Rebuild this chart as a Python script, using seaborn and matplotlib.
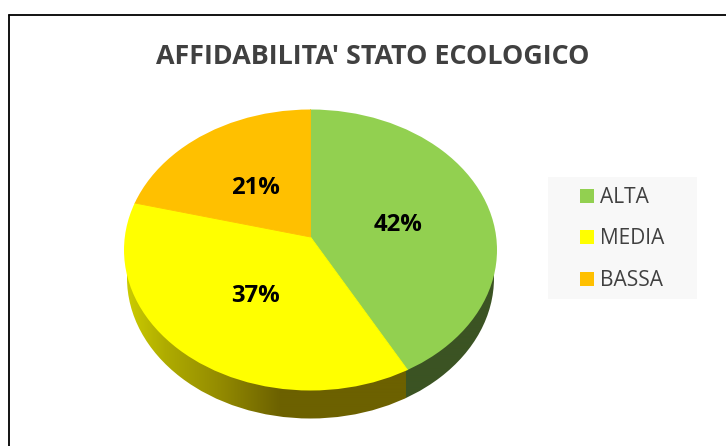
import numpy as np
import matplotlib
matplotlib.use("Agg")
import matplotlib.pyplot as plt
from matplotlib.patches import Circle, Ellipse, Rectangle
from matplotlib.lines import Line2D
import seaborn as sns

categories = ["ALTA", "MEDIA", "BASSA"]
values = [42, 37, 21]
colors = ["#92D050", "#FFFF00", "#FFC000"]
title = "AFFIDABILITA' STATO ECOLOGICO"

sns.set_theme(style="white")
plt.rcParams["font.family"] = ["Open Sans", "DejaVu Sans"]

W, H = 726, 446
fig = plt.figure(figsize=(W / 100, H / 100), dpi=100, facecolor="white")
ax = fig.add_axes([0, 0, 1, 1])

# Pie geometry in pixels of the picture
CX, CY, RX, RY = 310.5, 250.0, 186.5, 140.5
APEX_Y = 237.0
DEPTH = 28.0
X = lambda px: (px - CX) / RX
Y = lambda py: -(py - CY) / RY

palette = sns.color_palette(colors)
apex = (0.0, Y(APEX_Y))
R = 1.4
wedges, _, autotexts = ax.pie(
    values, colors=palette, startangle=90, counterclock=False,
    center=apex, radius=R, autopct="%.0f%%", pctdistance=0.485 / R,
    wedgeprops=dict(linewidth=0, zorder=3),
    textprops=dict(fontsize=17.2, fontweight="bold", color="black", zorder=5),
)
ax.set_aspect("auto")
ax.set_xlim(X(0), X(W))
ax.set_ylim(Y(H), Y(0))
ax.axis("off")

for t in autotexts:
    x0, y0 = t.get_position()
    t.set_position((x0, y0 - 5 / RY))

# Legend (created before clipping so its swatches stay whole)
fig.add_artist(Rectangle((548 / W, 1 - 299 / H), 149 / W, 122 / H,
                         transform=fig.transFigure, facecolor="#F8F8F8",
                         edgecolor="none", zorder=1))
leg = fig.legend(wedges, categories, loc="center left",
                 bbox_to_anchor=(580 / W, 1 - 239 / H), frameon=False,
                 fontsize=15.0, labelcolor="#404040", handlelength=0.66,
                 handleheight=0.66, handletextpad=0.29, labelspacing=0.98,
                 borderpad=0, borderaxespad=0)
leg.set_zorder(6)

# Clip the oversized wedges to the top face; a hairline in the slice colour
# closes the seams between neighbouring slices
disc = Circle((0, 0), 1.0, transform=ax.transData)
for w in wedges:
    w.set_edgecolor(w.get_facecolor())
    w.set_linewidth(0.6)
    w.set_clip_on(True)
    w.set_clip_path(disc)

# Side wall: colour per column, split where the MEDIA/ALTA edge meets the rim
theta = np.deg2rad(360 * values[0] / sum(values))
dx, dy = np.sin(theta), np.cos(theta)
b = apex[1] * dy
t_hit = -b + np.sqrt(b * b - (apex[1] ** 2 - 1))
edge_x = t_hit * dx

xs = np.linspace(X(120), X(500), 380)
px = xs * RX + CX
yellow_side = np.column_stack([
    np.interp(px, [125, 165, 215, 280, 420], [205, 175, 150, 108, 108]),
    np.interp(px, [125, 165, 215, 280, 420], [205, 172, 142, 97, 97]),
    np.zeros_like(px),
]) / 255
green_side = np.array([59, 83, 35]) / 255
side = np.where((xs < edge_x - 1 / RX)[:, None], yellow_side, green_side)
im = ax.imshow(side[None, :, :], extent=(xs[0], xs[-1], Y(430), Y(240)),
               aspect="auto", zorder=1, interpolation="bilinear")
ax.set_xlim(X(0), X(W))
ax.set_ylim(Y(H), Y(0))
base = Ellipse((0, Y(CY + DEPTH)), 2 * 183.5 / RX, 2.0, transform=ax.transData)
im.set_clip_path(base)

# Chart frame, running off the picture to the right and below
frame = dict(color="black", linewidth=1.3, transform=fig.transFigure, zorder=7)
fig.add_artist(Line2D([9 / W, 9 / W], [0, 1 - 15 / H], **frame))
fig.add_artist(Line2D([9 / W, 1], [1 - 15 / H, 1 - 15 / H], **frame))

fig.text(372.5 / W, 1 - 57.5 / H, title, ha="center", va="center",
         fontsize=19.4, fontweight="bold", color="#404040")

fig.savefig("out.png", dpi=100, facecolor="white")
